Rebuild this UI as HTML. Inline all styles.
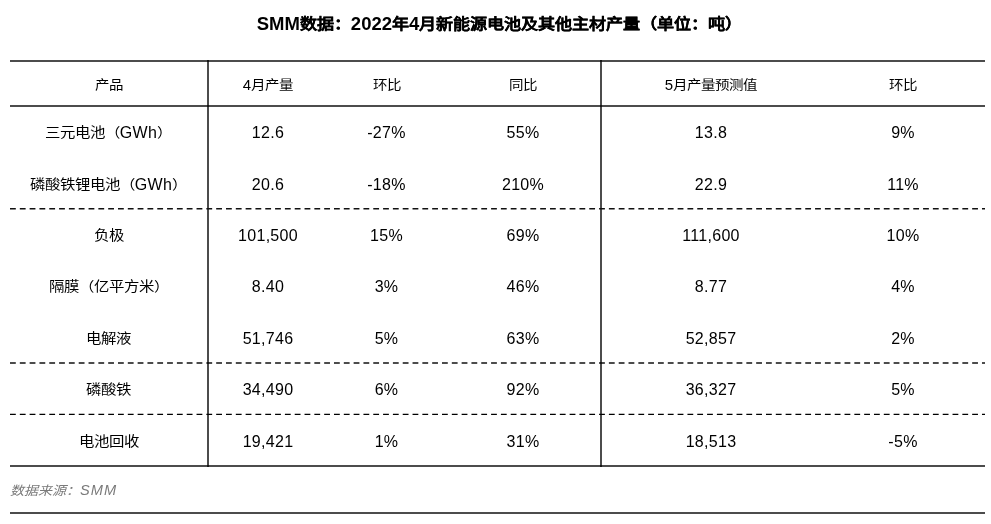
<!DOCTYPE html>
<html lang="zh-CN"><head><meta charset="utf-8"><style>
html,body{margin:0;padding:0;background:#fff;}
body{width:991px;height:524px;position:relative;overflow:hidden;font-family:"Liberation Sans",sans-serif;color:#000;}
#w{position:absolute;left:0;top:0;width:991px;height:524px;will-change:transform;background:#fff;}
.t{position:absolute;left:4px;width:991px;top:12px;text-align:center;font-weight:bold;font-size:18.5px;line-height:24px;white-space:nowrap;}
.tz{font-size:17.1px;-webkit-text-stroke:0.2px #000;display:inline-block;transform:scaleY(0.88);}
.c{position:absolute;width:220px;text-align:center;font-size:16px;letter-spacing:0.3px;line-height:20px;white-space:nowrap;}
.hd{font-size:15px;letter-spacing:0.2px;}
.hd .z{font-size:14.5px;}
.z{font-size:15.4px;letter-spacing:0;display:inline-block;transform:scaleY(0.87);}
.h{position:absolute;left:10px;width:975px;height:2px;background:rgba(0,0,0,0.7);}
.v{position:absolute;width:2px;top:60px;height:407px;background:rgba(0,0,0,0.7);}
.fz{font-size:14px;letter-spacing:0;display:inline-block;transform:scaleY(0.9);}
.f{position:absolute;left:10px;top:480px;font-size:14.6px;letter-spacing:1px;line-height:20px;font-style:italic;color:#7a7a7a;}
svg{position:absolute;left:0;top:0;}
</style></head><body><div id="w">
<div class="t">SMM<span class="tz">数据：</span>2022<span class="tz">年</span>4<span class="tz">月新能源电池及其他主材产量（单位：吨）</span></div>
<div class="h" style="top:60px"></div>
<div class="h" style="top:105px"></div>
<div class="h" style="top:465px"></div>
<div class="h" style="top:512px"></div>
<div class="v" style="left:207px"></div>
<div class="v" style="left:600px"></div>
<svg width="991" height="524">
<g stroke-dasharray="5.8 4.018" fill="none">
<line x1="10" x2="985" y1="208.8" y2="208.8" stroke="#111" stroke-width="1.6"/>
<line x1="10" x2="985" y1="363" y2="363" stroke="rgba(0,0,0,0.7)" stroke-width="2"/>
<line x1="10" x2="985" y1="414.4" y2="414.4" stroke="#000" stroke-width="1.3"/>
</g>
</svg>
<div class="c hd" style="left:-1.5px;top:74.70px"><span class="z">产品</span></div>
<div class="c hd" style="left:158.0px;top:74.70px">4<span class="z">月产量</span></div>
<div class="c hd" style="left:276.5px;top:74.70px"><span class="z">环比</span></div>
<div class="c hd" style="left:413.0px;top:74.70px"><span class="z">同比</span></div>
<div class="c hd" style="left:601.0px;top:74.70px">5<span class="z">月产量预测值</span></div>
<div class="c hd" style="left:793.0px;top:74.70px"><span class="z">环比</span></div>
<div class="c" style="left:-1.5px;top:123.20px"><span class="z">三元电池（</span>GWh<span class="z">）</span></div>
<div class="c" style="left:158.0px;top:123.20px">12.6</div>
<div class="c" style="left:276.5px;top:123.20px">-27%</div>
<div class="c" style="left:413.0px;top:123.20px">55%</div>
<div class="c" style="left:601.0px;top:123.20px">13.8</div>
<div class="c" style="left:793.0px;top:123.20px">9%</div>
<div class="c" style="left:-1.5px;top:174.60px"><span class="z">磷酸铁锂电池（</span>GWh<span class="z">）</span></div>
<div class="c" style="left:158.0px;top:174.60px">20.6</div>
<div class="c" style="left:276.5px;top:174.60px">-18%</div>
<div class="c" style="left:413.0px;top:174.60px">210%</div>
<div class="c" style="left:601.0px;top:174.60px">22.9</div>
<div class="c" style="left:793.0px;top:174.60px">11%</div>
<div class="c" style="left:-1.5px;top:226.00px"><span class="z">负极</span></div>
<div class="c" style="left:158.0px;top:226.00px">101,500</div>
<div class="c" style="left:276.5px;top:226.00px">15%</div>
<div class="c" style="left:413.0px;top:226.00px">69%</div>
<div class="c" style="left:601.0px;top:226.00px">111,600</div>
<div class="c" style="left:793.0px;top:226.00px">10%</div>
<div class="c" style="left:-1.5px;top:277.40px"><span class="z">隔膜（亿平方米）</span></div>
<div class="c" style="left:158.0px;top:277.40px">8.40</div>
<div class="c" style="left:276.5px;top:277.40px">3%</div>
<div class="c" style="left:413.0px;top:277.40px">46%</div>
<div class="c" style="left:601.0px;top:277.40px">8.77</div>
<div class="c" style="left:793.0px;top:277.40px">4%</div>
<div class="c" style="left:-1.5px;top:328.80px"><span class="z">电解液</span></div>
<div class="c" style="left:158.0px;top:328.80px">51,746</div>
<div class="c" style="left:276.5px;top:328.80px">5%</div>
<div class="c" style="left:413.0px;top:328.80px">63%</div>
<div class="c" style="left:601.0px;top:328.80px">52,857</div>
<div class="c" style="left:793.0px;top:328.80px">2%</div>
<div class="c" style="left:-1.5px;top:380.20px"><span class="z">磷酸铁</span></div>
<div class="c" style="left:158.0px;top:380.20px">34,490</div>
<div class="c" style="left:276.5px;top:380.20px">6%</div>
<div class="c" style="left:413.0px;top:380.20px">92%</div>
<div class="c" style="left:601.0px;top:380.20px">36,327</div>
<div class="c" style="left:793.0px;top:380.20px">5%</div>
<div class="c" style="left:-1.5px;top:431.60px"><span class="z">电池回收</span></div>
<div class="c" style="left:158.0px;top:431.60px">19,421</div>
<div class="c" style="left:276.5px;top:431.60px">1%</div>
<div class="c" style="left:413.0px;top:431.60px">31%</div>
<div class="c" style="left:601.0px;top:431.60px">18,513</div>
<div class="c" style="left:793.0px;top:431.60px">-5%</div>
<div class="f"><span class="fz">数据来源：</span>SMM</div>
</div></body></html>
